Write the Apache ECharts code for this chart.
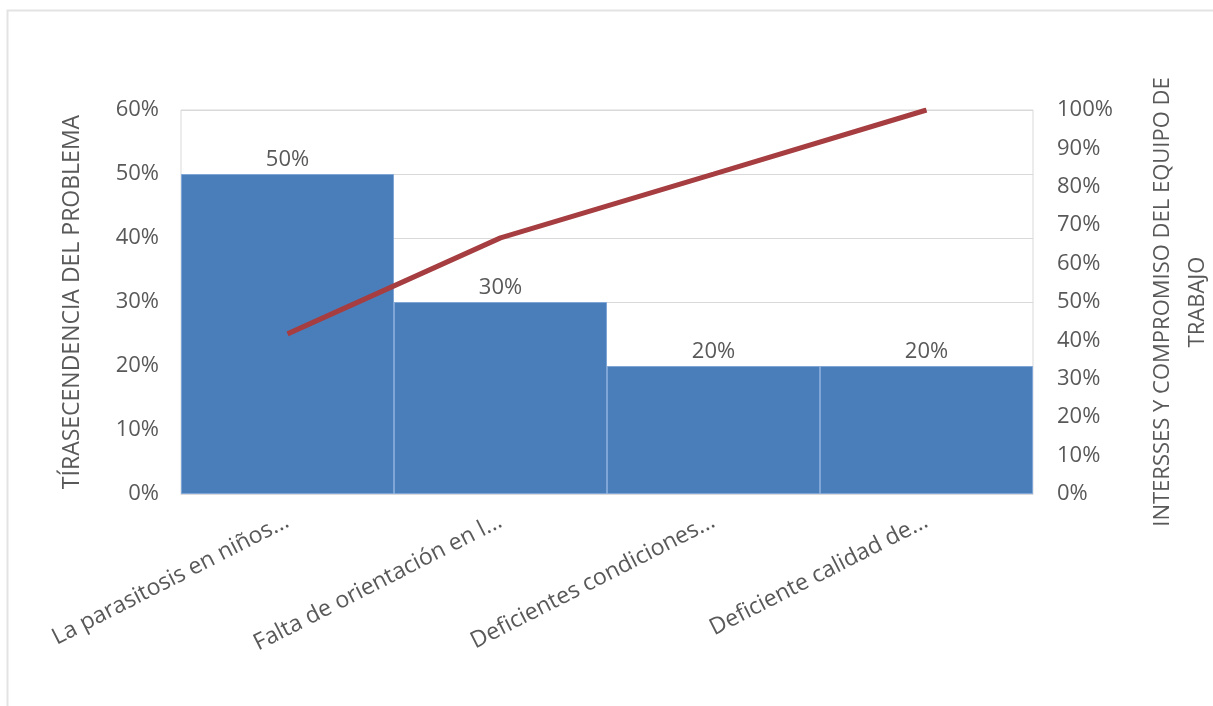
<!DOCTYPE html>
<html>
<head>
<meta charset="utf-8">
<script src="https://cdn.jsdelivr.net/npm/echarts@6/dist/echarts.min.js"></script>
<style>
html,body{margin:0;padding:0;background:#fff;}
#chart{width:1213px;height:706px;}
</style>
</head>
<body>
<div id="chart"></div>
<script>
const categories = ['La parasitosis en niños...', 'Falta de orientación en l...', 'Deficientes condiciones...', 'Deficiente calidad de...'];
const barValues = [0.50, 0.30, 0.20, 0.20];
const cumulativeValues = [0.417, 0.667, 0.833, 1.00];
const leftAxisName = 'TÍRASECENDENCIA DEL PROBLEMA';
const rightAxisName = 'INTERSSES Y COMPROMISO DEL EQUIPO DE\nTRABAJO';

const FONT = 'Open Sans';
const TXT = '#595959';
const pct = v => Math.round(v * 100) + '%';

const chart = echarts.init(document.getElementById('chart'), null, {renderer: 'canvas'});
chart.setOption({
  backgroundColor: '#ffffff',
  animation: false,
  textStyle: {fontFamily: FONT},
  graphic: [{
    type: 'rect', silent: true, z: -10,
    shape: {x: 7.5, y: 10.5, width: 1220, height: 710},
    style: {fill: 'none', stroke: '#e3e3e3', lineWidth: 2}
  }],
  grid: {left: 181, right: 180, top: 110, bottom: 212, show: true, borderColor: '#d9d9d9', borderWidth: 1, outerBoundsMode: 'none', containLabel: false},
  xAxis: {
    type: 'category',
    data: categories,
    axisTick: {show: false},
    axisLine: {show: true, lineStyle: {color: '#d9d9d9'}},
    axisLabel: {rotate: 27, color: TXT, fontSize: 23, fontFamily: FONT, margin: 26, interval: 0}
  },
  yAxis: [{
    type: 'value', min: 0, max: 0.6, interval: 0.1,
    name: leftAxisName, nameLocation: 'middle', nameRotate: 90, nameGap: 97,
    nameTextStyle: {color: TXT, fontSize: 23, fontFamily: FONT},
    axisLine: {show: false}, axisTick: {show: false},
    axisLabel: {formatter: pct, color: TXT, fontSize: 22, fontFamily: FONT, margin: 22},
    splitLine: {show: true, lineStyle: {color: '#d9d9d9', width: 1}}
  }, {
    type: 'value', min: 0, max: 1, interval: 0.1, position: 'right',
    name: rightAxisName, nameLocation: 'middle', nameRotate: 90, nameGap: 112,
    nameTextStyle: {color: TXT, fontSize: 22, fontFamily: FONT, align: 'center', lineHeight: 35},
    axisLine: {show: false}, axisTick: {show: false},
    axisLabel: {formatter: pct, color: TXT, fontSize: 22, fontFamily: FONT, margin: 24},
    splitLine: {show: false}
  }],
  series: [{
    type: 'bar',
    data: barValues,
    barWidth: '100%',
    barCategoryGap: '0%',
    itemStyle: {color: '#4A7EBB', borderColor: '#7FA6D6', borderWidth: 1},
    label: {show: true, position: 'top', formatter: p => pct(p.value), color: TXT, fontSize: 22, fontFamily: FONT, distance: 3}
  }, {
    type: 'line',
    yAxisIndex: 1,
    data: cumulativeValues,
    symbol: 'none',
    lineStyle: {color: '#A63D40', width: 5},
    z: 5
  }]
});
</script>
</body>
</html>
